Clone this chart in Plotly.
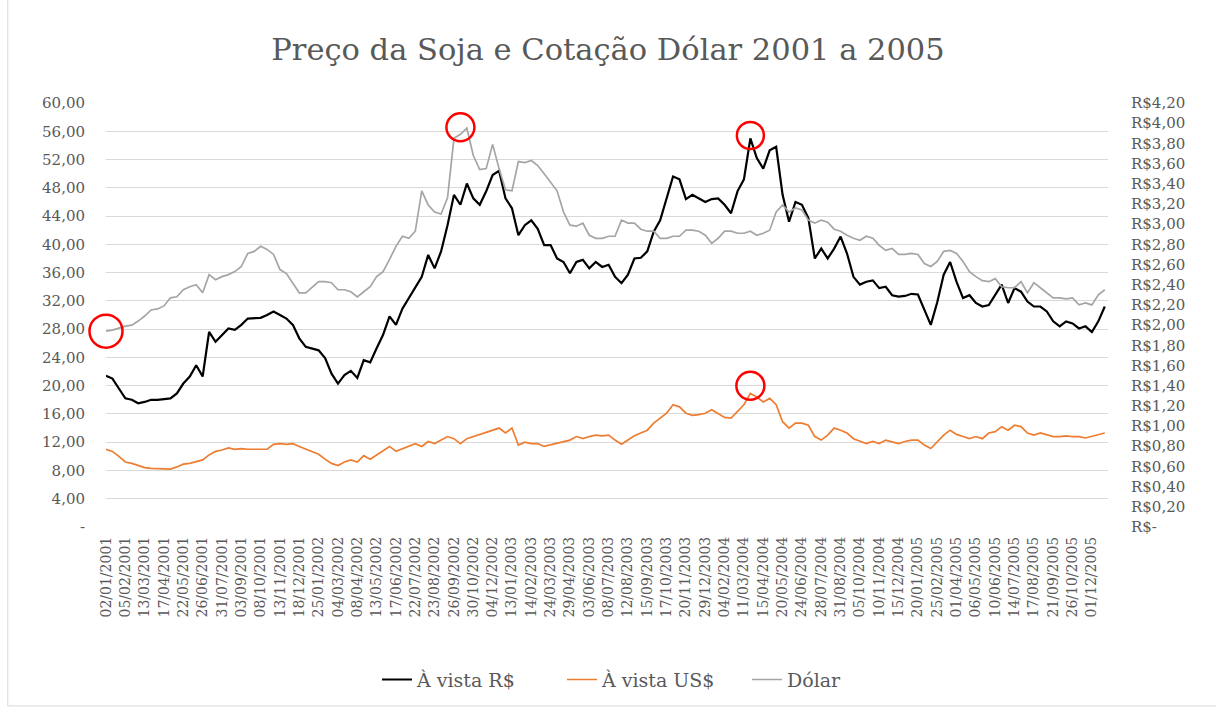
import pandas as pd
import plotly.graph_objects as go

# ---------------- data ----------------
tick_labels = [
    "02/01/2001", "05/02/2001", "13/03/2001", "17/04/2001", "22/05/2001", "26/06/2001",
    "31/07/2001", "03/09/2001", "08/10/2001", "13/11/2001", "18/12/2001", "25/01/2002",
    "04/03/2002", "08/04/2002", "13/05/2002", "17/06/2002", "22/07/2002", "23/08/2002",
    "26/09/2002", "30/10/2002", "04/12/2002", "13/01/2003", "14/02/2003", "24/03/2003",
    "29/04/2003", "03/06/2003", "08/07/2003", "12/08/2003", "15/09/2003", "17/10/2003",
    "20/11/2003", "29/12/2003", "04/02/2004", "11/03/2004", "15/04/2004", "20/05/2004",
    "24/06/2004", "28/07/2004", "31/08/2004", "05/10/2004", "10/11/2004", "15/12/2004",
    "20/01/2005", "25/02/2005", "01/04/2005", "06/05/2005", "10/06/2005", "14/07/2005",
    "17/08/2005", "21/09/2005", "26/10/2005", "01/12/2005",
]

# À vista R$ (left axis)
avista_rs = [
    21.4, 21.0, 19.6, 18.2, 18.0, 17.5, 17.7, 18.0, 18.0, 18.1, 18.2, 18.9, 20.3, 21.3, 22.9, 21.3,
    27.6, 26.2, 27.2, 28.1, 27.9, 28.6, 29.5, 29.5, 29.6, 30.0,
    30.5, 30.0, 29.5, 28.6, 26.7, 25.5, 25.2, 25.0, 23.9, 21.7, 20.3, 21.5, 22.1, 21.1, 23.6, 23.3,
    25.3, 27.2, 29.8, 28.6, 30.9, 32.4, 33.9, 35.4, 38.5,
    36.6, 39.0, 42.7, 47.0, 45.6, 48.6, 46.5, 45.6, 47.5, 49.8, 50.4, 46.5, 45.1, 41.3, 42.7, 43.4,
    42.2, 39.9, 39.9, 38.0, 37.5, 35.9, 37.5, 37.8, 36.6, 37.5, 36.8,
    37.1, 35.4, 34.5, 35.7, 38.0, 38.1, 39.0, 41.8, 43.4, 46.5, 49.6, 49.2, 46.4, 47.0, 46.5, 46.0,
    46.4, 46.5, 45.6, 44.4, 47.5, 49.2, 55.0, 52.2, 50.7, 53.3,
    53.8, 47.0, 43.2, 46.0, 45.6, 43.7, 38.0, 39.4, 38.0, 39.4, 41.1, 38.7, 35.4, 34.3, 34.7, 34.9,
    33.8, 34.0, 32.8, 32.6, 32.7, 33.0, 32.9, 30.7, 28.6, 31.8,
    35.7, 37.5, 34.7, 32.4, 32.8, 31.7, 31.2, 31.4, 32.8, 34.3, 31.7, 33.8, 33.3, 31.9, 31.2, 31.2,
    30.5, 29.1, 28.4, 29.1, 28.8, 28.1, 28.4, 27.6, 29.1, 31.2,
]

# À vista US$ (left axis)
avista_us = [
    11.0, 10.7, 10.0, 9.2, 9.0, 8.7, 8.4, 8.3, 8.3, 8.2, 8.2, 8.5, 8.9, 9.0, 9.3, 9.5,
    10.2, 10.7, 10.9, 11.2, 11.0, 11.1, 11.0, 11.0, 10.9, 11.0,
    11.7, 11.8, 11.7, 11.8, 11.4, 11.0, 10.6, 10.3, 9.6, 9.0, 8.7, 9.2, 9.5, 9.2, 10.1, 9.6,
    10.2, 10.8, 11.4, 10.7, 11.1, 11.4, 11.8, 11.4, 12.1,
    11.8, 12.3, 12.8, 12.5, 11.8, 12.5, 12.8, 13.0, 13.4, 13.6, 14.0, 13.3, 14.0, 11.6, 12.0, 11.8,
    11.8, 11.4, 11.6, 11.8, 12.1, 12.3, 12.8, 12.5, 12.8, 13.0, 12.9,
    13.0, 12.3, 11.7, 12.3, 12.9, 13.3, 13.7, 14.7, 15.4, 16.1, 17.3, 17.0, 16.1, 15.8, 15.9, 16.1,
    16.6, 16.1, 15.5, 15.4, 16.3, 17.3, 18.9, 18.4, 17.7, 18.2,
    17.3, 14.9, 14.0, 14.7, 14.7, 14.4, 12.8, 12.3, 13.0, 14.0, 13.7, 13.3, 12.5, 12.2, 11.8, 12.1,
    11.8, 12.3, 12.0, 11.8, 12.1, 12.3, 12.3, 11.6, 11.1, 12.1,
    13.0, 13.7, 13.1, 12.8, 12.5, 12.8, 12.5, 13.3, 13.5, 14.2, 13.7, 14.4, 14.2, 13.3, 13.0, 13.3,
    13.0, 12.8, 12.8, 12.9, 12.8, 12.8, 12.6, 12.8, 13.1, 13.3,
]

# Dólar (right axis, R$)
dolar = [
    1.94, 1.95, 1.97, 1.99, 2.00, 2.04, 2.09, 2.15, 2.16, 2.19, 2.27, 2.28, 2.35, 2.38, 2.40, 2.32,
    2.50, 2.45, 2.48, 2.50, 2.53, 2.58, 2.71, 2.73, 2.78, 2.75,
    2.70, 2.55, 2.51, 2.42, 2.32, 2.32, 2.38, 2.43, 2.43, 2.42, 2.35, 2.35, 2.33, 2.28, 2.33, 2.38,
    2.48, 2.53, 2.65, 2.78, 2.88, 2.86, 2.93, 3.33, 3.19,
    3.12, 3.10, 3.26, 3.85, 3.89, 3.95, 3.68, 3.54, 3.55, 3.79, 3.55, 3.34, 3.33, 3.62, 3.61, 3.63,
    3.58, 3.50, 3.42, 3.33, 3.12, 2.99, 2.98, 3.01, 2.89, 2.86, 2.86,
    2.88, 2.88, 3.04, 3.01, 3.01, 2.95, 2.93, 2.93, 2.86, 2.86, 2.88, 2.88, 2.94, 2.94, 2.93, 2.89,
    2.81, 2.86, 2.93, 2.93, 2.91, 2.91, 2.93, 2.89, 2.91, 2.94,
    3.12, 3.19, 3.12, 3.16, 3.14, 3.04, 3.01, 3.04, 3.02, 2.95, 2.93, 2.89, 2.86, 2.84, 2.88, 2.86,
    2.79, 2.74, 2.76, 2.70, 2.70, 2.71, 2.70, 2.61, 2.58, 2.63,
    2.73, 2.74, 2.71, 2.63, 2.53, 2.48, 2.44, 2.43, 2.46, 2.38, 2.37, 2.37, 2.43, 2.32, 2.42, 2.37,
    2.32, 2.27, 2.27, 2.26, 2.27, 2.20, 2.22, 2.20, 2.30, 2.35,
]

left_tickvals = [0, 4, 8, 12, 16, 20, 24, 28, 32, 36, 40, 44, 48, 52, 56, 60]
left_ticktext = ["-", "4,00", "8,00", "12,00", "16,00", "20,00", "24,00", "28,00", "32,00",
                 "36,00", "40,00", "44,00", "48,00", "52,00", "56,00", "60,00"]
right_tickvals = [0.0, 0.2, 0.4, 0.6, 0.8, 1.0, 1.2, 1.4, 1.6, 1.8, 2.0, 2.2, 2.4, 2.6, 2.8,
                  3.0, 3.2, 3.4, 3.6, 3.8, 4.0, 4.2]
right_ticktext = ["R$-", "R$0,20", "R$0,40", "R$0,60", "R$0,80", "R$1,00", "R$1,20", "R$1,40",
                  "R$1,60", "R$1,80", "R$2,00", "R$2,20", "R$2,40", "R$2,60", "R$2,80", "R$3,00",
                  "R$3,20", "R$3,40", "R$3,60", "R$3,80", "R$4,00", "R$4,20"]

# ---------------- x categories (sampled dates between labels) ----------------
lab_dt = pd.to_datetime(tick_labels, format="%d/%m/%Y")
dates = []
for a, b in zip(lab_dt[:-1], lab_dt[1:]):
    step = (b - a) / 3
    for j in range(3):
        dates.append((a + step * j).round("D").strftime("%d/%m/%Y"))
last_step = (lab_dt[-1] - lab_dt[-2]) / 3
for j in range(3):
    dates.append((lab_dt[-1] + last_step * j).round("D").strftime("%d/%m/%Y"))

FONT = "DejaVu Serif"
TXT = "#595959"

fig = go.Figure()
fig.add_trace(go.Scatter(x=dates, y=avista_rs, name="À vista R$", mode="lines",
                         line=dict(color="#000000", width=2.2)))
fig.add_trace(go.Scatter(x=dates, y=avista_us, name="À vista US$", mode="lines",
                         line=dict(color="#ED7D31", width=1.7)))
fig.add_trace(go.Scatter(x=dates, y=dolar, name="Dólar", mode="lines", yaxis="y2",
                         line=dict(color="#A5A5A5", width=1.7)))

# red circles highlighting points
def circle(xref, yref, xa, ya, r):
    return dict(type="circle", xref=xref, yref=yref, xsizemode="pixel", ysizemode="pixel",
                xanchor=xa, yanchor=ya, x0=-r, x1=r, y0=-r, y1=r,
                line=dict(color="#FF0000", width=2.5), layer="above")

i_g = max(range(len(dolar)), key=lambda k: dolar[k])
i_b = max(range(len(avista_rs)), key=lambda k: avista_rs[k])
i_o = max(range(len(avista_us)), key=lambda k: avista_us[k])
shapes = [
    circle("paper", "paper", 0, dolar[0] / 4.2, 16.5),
    circle("x", "y2", i_g - 1, dolar[i_g] + 0.01, 14),
    circle("x", "y", i_b, avista_rs[i_b] + 0.4, 13.5),
    circle("x", "y", i_o, avista_us[i_o] + 1.1, 14),
    # outer chart border
    dict(type="rect", xref="paper", yref="paper", x0=-0.098, x1=1.2, y0=-0.422, y1=1.30,
         line=dict(color="#D9D9D9", width=1), layer="below"),
]

fig.update_layout(
    width=1216, height=710,
    margin=dict(l=106, r=108, t=103, b=183),
    paper_bgcolor="white", plot_bgcolor="white",
    font=dict(family=FONT, color=TXT),
    title=dict(text="Preço da Soja e Cotação Dólar 2001 a 2005", x=0.5, xanchor="center",
               y=0.93, yanchor="middle", font=dict(family=FONT, size=30.5, color=TXT)),
    xaxis=dict(type="category", categoryorder="array", categoryarray=dates,
               range=[0, 155.5], tickmode="array", tickvals=tick_labels, ticktext=tick_labels,
               tickangle=-90, tickfont=dict(family=FONT, size=14, color=TXT),
               showgrid=False, showline=False, zeroline=False, ticks="",
               ticklabelstandoff=6),
    yaxis=dict(range=[0, 60], tickmode="array", tickvals=left_tickvals, ticktext=left_ticktext,
               showgrid=True, gridcolor="#D9D9D9", gridwidth=1, zeroline=False, showline=False,
               ticks="", tickfont=dict(family=FONT, size=15, color=TXT), ticklabelstandoff=20),
    yaxis2=dict(range=[0, 4.2], overlaying="y", side="right", tickmode="array",
                tickvals=right_tickvals, ticktext=right_ticktext, showgrid=False,
                zeroline=False, showline=False, ticks="",
                tickfont=dict(family=FONT, size=15, color=TXT), ticklabelstandoff=22),
    legend=dict(orientation="h", x=(377 - 106) / 1002, xanchor="left", y=-0.36,
                yanchor="middle", entrywidth=140, entrywidthmode="pixels",
                font=dict(family=FONT, size=19, color=TXT), traceorder="normal",
                bgcolor="rgba(0,0,0,0)"),
    shapes=shapes,
    showlegend=True,
)

fig.write_html("out.html", config={"displayModeBar": False},
               post_script="document.body.style.margin='0px';")
